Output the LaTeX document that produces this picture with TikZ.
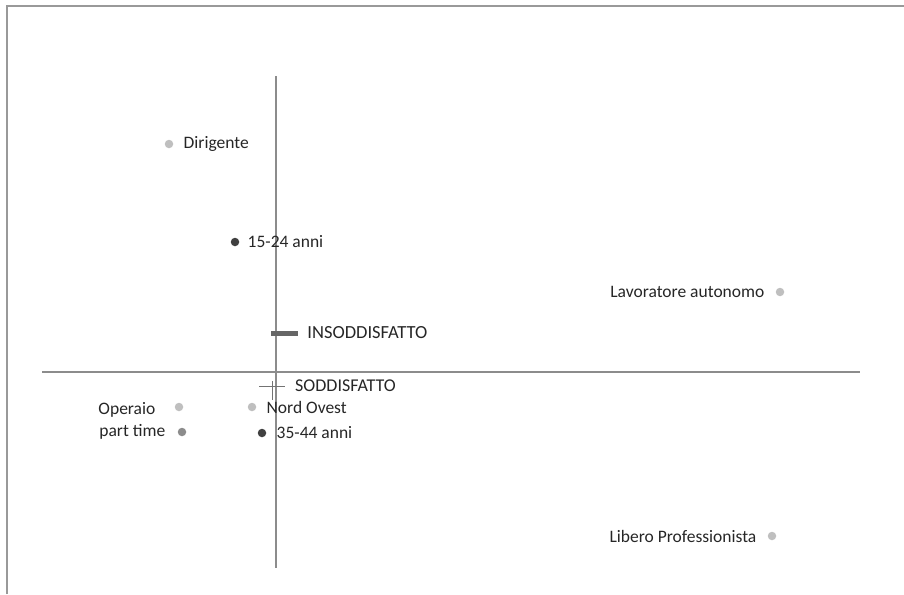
\documentclass[tikz,border=0pt]{standalone}
\usepackage{fontspec}
\setmainfont{Carlito}
\usetikzlibrary{positioning}

\begin{document}
\begin{tikzpicture}[
            x = 1pt, y = -1pt, % one unit per pixel, y downwards
            node distance = 10pt,
            dot/.style = {shape=circle, inner sep=0pt, minimum size=8.5pt},
            light/.style = {dot, fill=black!25},
            dark/.style = {dot, fill=black!75},
            lbl/.style = {inner sep=0pt, font=\fontsize{17.5}{20}\selectfont, text=black!85},
            axis/.style = {draw=black!45, line width=1.2pt}
        ]
\useasboundingbox (0,0) rectangle (904,594);
\draw[black!40, line width=1.5pt] (7,594) -- (7,6) -- (904,6);

% axes
\coordinate (N) at (276,76);
\coordinate (S) at (276,568);
\coordinate (W) at (42,372);
\coordinate (E) at (860,372);
\draw[axis] (N) -- (S);
\draw[axis] (W) -- (E);

% points
\node[light] (dirigente) at (169,144) {};
\node[lbl, right=of dirigente] (dirigentel) {Dirigente};

\node[dark] (a1524) at (235,242) {};
\node[lbl, right=8pt of a1524] (a1524l) {15-24 anni};

\node[light] (autonomo) at (780,292) {};
\node[lbl, left=11pt of autonomo] (autonomol) {Lavoratore autonomo};

\node[fill=black!60, minimum width=27pt, minimum height=5pt, inner sep=0pt] (insodd) at (284.5,333) {};
\node[lbl, right=9pt of insodd, font=\fontsize{18.5}{20}\selectfont] (insoddl) {INSODDISFATTO};

\coordinate (sodd) at (272,386);
\draw[black!55, line width=0.8pt] ([xshift=-13pt]sodd) -- ([xshift=13pt]sodd);
\draw[black!55, line width=0.8pt] ([yshift=-14pt]sodd) -- ([yshift=5pt]sodd);
\node[lbl, anchor=west, font=\fontsize{18}{20}\selectfont] (soddl) at (295,386) {SODDISFATTO};

\node[light] (nordovest) at (252,407) {};
\node[lbl, right=of nordovest] (nordovestl) {Nord Ovest};

\node[dark] (a3544) at (262,433) {};
\node[lbl, right=of a3544] (a3544l) {35-44 anni};

\node[light] (operaio) at (179,407) {};
\node[lbl, left=19pt of operaio, yshift=-3pt] (operaiol) {Operaio};

\node[dark, fill=black!45] (parttime) at (182,432) {};
\node[lbl, left=12pt of parttime] (parttimel) {part time};

\node[light] (libero) at (772,536) {};
\node[lbl, left=11pt of libero] (liberol) {Libero Professionista};
\end{tikzpicture}
\end{document}
